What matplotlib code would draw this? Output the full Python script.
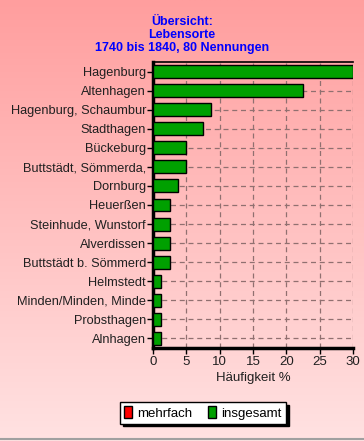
import numpy as np
import matplotlib
matplotlib.use("Agg")
import matplotlib.pyplot as plt
from matplotlib.patches import Patch

plt.rcParams['font.family'] = ['Liberation Sans', 'DejaVu Sans']

orte = ["Hagenburg", "Altenhagen", "Hagenburg, Schaumbur", "Stadthagen",
        "Bückeburg", "Buttstädt, Sömmerda,", "Dornburg", "Heuerßen",
        "Steinhude, Wunstorf", "Alverdissen", "Buttstädt b. Sömmerd",
        "Helmstedt", "Minden/Minden, Minde", "Probsthagen", "Alnhagen"]
insgesamt = [30, 22.5, 8.75, 7.5, 5, 5, 3.75, 2.5, 2.5, 2.5, 2.5,
             1.25, 1.25, 1.25, 1.25]
xticks = [0, 5, 10, 15, 20, 25, 30]

fig = plt.figure(figsize=(3.64, 4.41), dpi=100)

# background gradient over whole figure
bg = fig.add_axes([0, 0, 1, 1], zorder=-10)
t = np.linspace(0, 1, 256)[:, None]
top = np.array([255, 158, 158]) / 255
bot = np.array([255, 226, 226]) / 255
grad = top[None, None, :] * (1 - t[..., None]) + bot[None, None, :] * t[..., None]
bg.imshow(grad, aspect='auto', extent=[0, 1, 0, 1])
bg.set_axis_off()
# thin grey frame at bottom
bg.plot([0, 1], [0.004, 0.004], color='#a0a0a0', lw=1.5, transform=bg.transAxes)

ax = fig.add_axes([0.4203, 0.2109, 0.5495, 0.6485])
ax.patch.set_alpha(0)
y = np.arange(len(orte))
ax.barh(y, insgesamt, height=0.68, color='#00a000', edgecolor='black',
        linewidth=1, zorder=3)
ax.set_ylim(len(orte) - 0.5, -0.5)
ax.set_xlim(0, 30)
ax.set_yticks(y)
ax.set_yticklabels(orte, fontsize=9.2, color='#202020')
ax.set_xticks(xticks)
ax.set_xticklabels([str(v) for v in xticks], fontsize=9.5, color='#202020')
ax.tick_params(axis='y', length=4, width=1, pad=1)
ax.tick_params(axis='x', length=4, width=1, pad=2)
ax.grid(True, linestyle=(0, (4, 3)), color='#907070', linewidth=0.9, zorder=1)
ax.set_axisbelow(True)
ax.set_xlabel("Häufigkeit %", fontsize=9.5, color='#202020', labelpad=3)

ax.spines['left'].set_linewidth(2.5)
ax.spines['bottom'].set_linewidth(2.5)
ax.spines['top'].set_linewidth(1.2)
ax.spines['right'].set_visible(False)

fig.text(0.5, 1 - 35 / 441, "Übersicht:\nLebensorte\n1740 bis 1840, 80 Nennungen",
         ha='center', va='center', color='#0000ff', fontsize=9,
         fontweight='bold', linespacing=1.15)

handles = [Patch(facecolor='#ff0000', edgecolor='black', label='mehrfach'),
           Patch(facecolor='#00a000', edgecolor='black', label='insgesamt')]
leg = fig.legend(handles=handles, loc='center', bbox_to_anchor=(203 / 364, 1 - 413 / 441),
                 ncol=2, fontsize=9.5, frameon=True, fancybox=False,
                 shadow={'color': 'black', 'alpha': 1},
                 handlelength=0.6, handleheight=1.0, handletextpad=0.4,
                 columnspacing=1.2, borderpad=0.3)
leg.get_frame().set_edgecolor('black')
leg.get_frame().set_linewidth(1)
leg.get_frame().set_facecolor('white')
leg.get_frame().set_alpha(1)

fig.savefig("out.png", dpi=100)
